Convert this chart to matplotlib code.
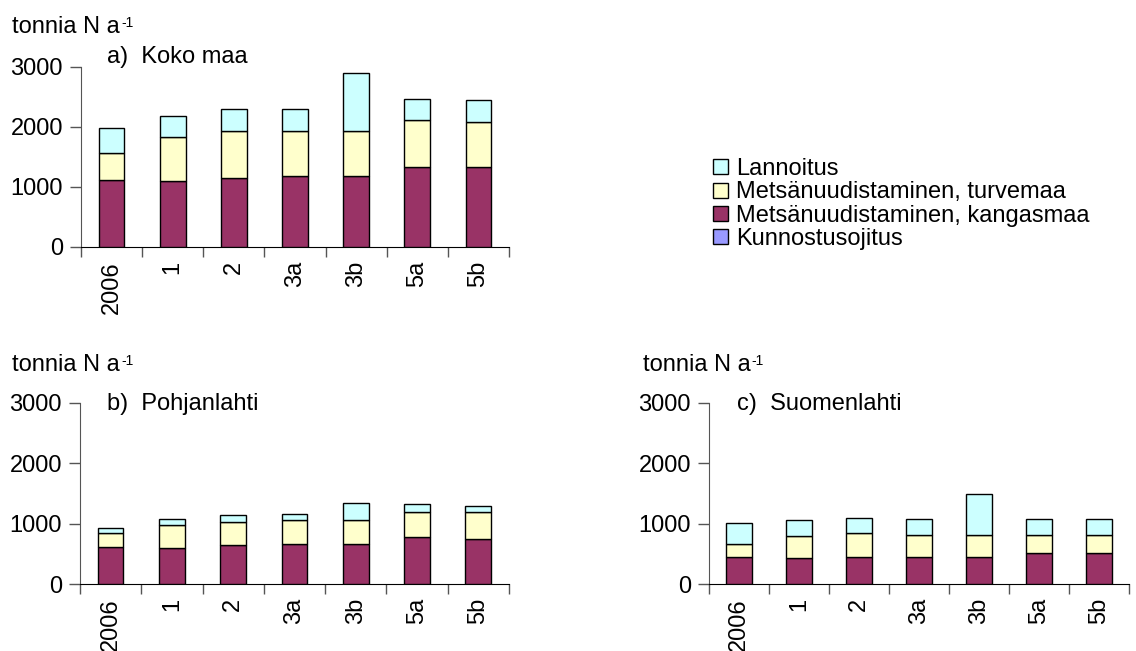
import matplotlib

matplotlib.use("Agg")
import matplotlib.pyplot as plt
import numpy as np
from matplotlib.patches import Patch

plt.rcParams["font.family"] = ["Liberation Sans", "DejaVu Sans"]

scenarios = ["2006", "1", "2", "3a", "3b", "5a", "5b"]
series_names = [
    "Kunnostusojitus",
    "Metsänuudistaminen, kangasmaa",
    "Metsänuudistaminen, turvemaa",
    "Lannoitus",
]
colors = ["#9999FF", "#993366", "#FFFFCC", "#CCFFFF"]

# tonnes N per year, one list per stacked component
koko_kunnostus = [0, 0, 0, 0, 0, 0, 0]
koko_kangas = [1120, 1095, 1145, 1180, 1180, 1330, 1330]
koko_turve = [440, 735, 785, 750, 750, 780, 750]
koko_lannoitus = [420, 360, 365, 365, 965, 360, 375]

pohja_kunnostus = [0, 0, 0, 0, 0, 0, 0]
pohja_kangas = [618, 590, 645, 662, 662, 772, 745]
pohja_turve = [230, 385, 380, 390, 390, 414, 440]
pohja_lannoitus = [85, 105, 110, 110, 288, 132, 105]

suomi_kunnostus = [0, 0, 0, 0, 0, 0, 0]
suomi_kangas = [455, 432, 455, 455, 455, 515, 515]
suomi_turve = [207, 362, 393, 362, 362, 302, 302]
suomi_lannoitus = [340, 257, 252, 262, 667, 262, 262]

panels = [
    ("a)  Koko maa", [koko_kunnostus, koko_kangas, koko_turve, koko_lannoitus]),
    ("b)  Pohjanlahti", [pohja_kunnostus, pohja_kangas, pohja_turve, pohja_lannoitus]),
    ("c)  Suomenlahti", [suomi_kunnostus, suomi_kangas, suomi_turve, suomi_lannoitus]),
]

FS = 17

fig = plt.figure(figsize=(11.36, 6.51), dpi=100)
rects = [
    [0.0713, 0.6206, 0.3768, 0.2765],
    [0.0704, 0.1029, 0.3776, 0.2785],
    [0.6241, 0.1029, 0.3697, 0.2785],
]
unit_pos = [(0.011, 0.958), (0.011, 0.440), (0.566, 0.440)]
title_pos = [(0.094, 0.912), (0.094, 0.380), (0.649, 0.380)]

x = np.arange(len(scenarios))
for rect, (title, stacks), upos, tpos in zip(rects, panels, unit_pos, title_pos):
    ax = fig.add_axes(rect)
    bottom = np.zeros(len(scenarios))
    for vals, col in zip(stacks, colors):
        vals = np.asarray(vals, dtype=float)
        ax.bar(x, vals, width=0.42, bottom=bottom, color=col,
               edgecolor="black", linewidth=1.0, zorder=3)
        bottom += vals

    ax.set_xlim(-0.5, len(scenarios) - 0.5)
    ax.set_ylim(0, 3000)
    ax.set_yticks([0, 1000, 2000, 3000])
    ax.set_xticks(x)
    ax.set_xticklabels(scenarios, rotation=90, fontsize=FS, va="top")
    ax.set_xticks(np.arange(-0.5, len(scenarios)), minor=True)
    ax.tick_params(axis="x", which="major", length=0, pad=10)
    ax.tick_params(axis="x", which="minor", length=7, width=1, color="#555555")
    ax.tick_params(axis="y", length=8, width=1, color="#555555", labelsize=FS, pad=5)

    for side in ("top", "right"):
        ax.spines[side].set_visible(False)
    ax.spines["left"].set_color("#555555")
    ax.spines["bottom"].set_color("black")
    ax.patch.set_alpha(0)

    # unit label with a small raised "-1"
    unit = fig.text(upos[0], upos[1], "tonnia N a", fontsize=FS, ha="left", va="center")
    fig.add_artist(plt.Annotation("-1", xy=(1.0, 1.0), xycoords=unit,
                                  xytext=(0.5, 0), textcoords="offset points",
                                  fontsize=10, ha="left", va="top"))
    fig.text(tpos[0], tpos[1], title, fontsize=FS, ha="left", va="center")

handles = [Patch(facecolor=c, edgecolor="black", linewidth=1.0) for c in colors]
fig.legend(handles[::-1], series_names[::-1], loc="upper left",
           bbox_to_anchor=(0.628, 0.757), frameon=False, fontsize=FS,
           handlelength=0.6, handleheight=0.6, handletextpad=0.35,
           labelspacing=0.05, borderpad=0, borderaxespad=0)

fig.savefig("out.png", dpi=100, facecolor="white")
